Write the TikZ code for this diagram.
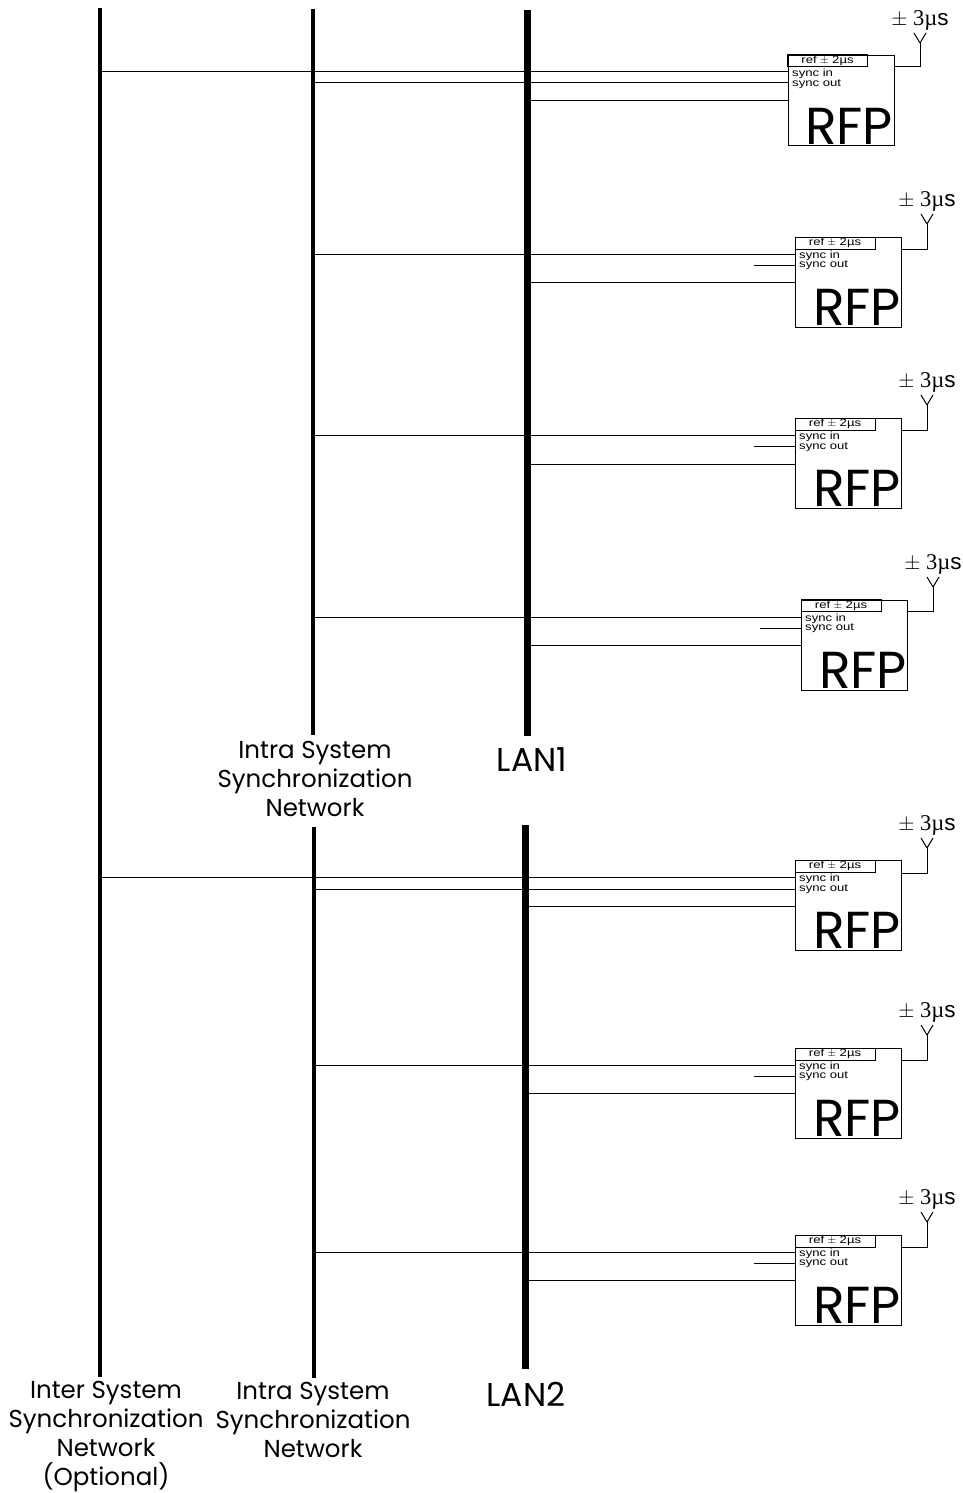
\documentclass[tikz,border=0pt]{standalone}
\usepackage{fontspec}
\setmainfont{Poppins}
\newfontfamily\arialface{Liberation Sans}
\newfontfamily\arialwide[FakeStretch=1.25]{Liberation Sans}
\newfontfamily\timesface{Liberation Serif}
\usetikzlibrary{positioning}
\tikzset{
	rfpbox/.style={draw, line width=1pt, minimum width=106pt, minimum height=90pt, inner sep=0pt},
	refbox/.style={draw, line width=1pt, minimum width=80pt, minimum height=12pt, inner sep=0pt, text width=80pt, align=center, font=\arialwide\fontsize{10.5}{10.5}\selectfont},
	syncname/.style={inner sep=0pt, anchor=west, font=\arialwide\fontsize{10.5}{10.5}\selectfont},
	rfpname/.style={inner sep=0pt, font=\fontsize{52}{52}\selectfont},
	timing/.style={inner sep=0pt, font=\timesface\fontsize{22.5}{22.5}\selectfont},
	netname/.style={inner sep=0pt, align=center, font=\fontsize{24.5}{29}\selectfont},
	lanname/.style={inner sep=0pt, font=\fontsize{33}{33}\selectfont},
	interbus/.style={line width=4pt},
	intrabus/.style={line width=3.5pt},
	lanbus/.style={line width=7pt},
	wire/.style={line width=1pt},
}
\begin{document}
\begin{tikzpicture}[x=1pt, y=-1pt]
	\useasboundingbox (0, 0) rectangle (962, 1493);
	% Buses:
	\coordinate (inter top) at (100, 8);
	\coordinate (inter bot) at (100, 1377);
	\coordinate (intra1 top) at (313, 9);
	\coordinate (intra1 bot) at (313, 735);
	\coordinate (intra2 top) at (314, 827);
	\coordinate (intra2 bot) at (314, 1378);
	\coordinate (lan1 top) at (527, 10);
	\coordinate (lan1 bot) at (527, 736);
	\coordinate (lan2 top) at (525, 825);
	\coordinate (lan2 bot) at (525, 1369);
	\draw[interbus] (inter top) -- (inter bot);
	\draw[intrabus] (intra1 top) -- (intra1 bot);
	\draw[intrabus] (intra2 top) -- (intra2 bot);
	\draw[lanbus] (lan1 top) -- (lan1 bot);
	\draw[lanbus] (lan2 top) -- (lan2 bot);
	% Bus names:
	\node[netname] (intra1 name) at (315, 779) {Intra System\\Synchronization\\Network};
	\node[lanname] (lan1 name) at (532, 760) {LAN1};
	\node[netname] (inter name) at (106, 1437) {Inter System\\Synchronization\\Network\\(Optional)};
	\node[netname] (intra2 name) at (313, 1420) {Intra System\\Synchronization\\Network};
	\node[lanname] (lan2 name) at (526, 1394) {LAN2};
	% RFP 1:
	\node[rfpbox] (rfp1) at (841.5, 100.5) {};
	\node[refbox] (ref1) at (827.5, 61) {ref $\pm$ 2µs};
	\node[syncname] (in1) at (792, 73.5) {sync in};
	\node[syncname] (out1) at (792, 84) {sync out};
	\node[rfpname] (name1) at (849, 126) {RFP};
	\node[timing] (time1) at (920, 20) {$\pm$ 3µ\arialface s};
	\coordinate (ant1) at (920, 33);
	\coordinate (a1) at (788, 72);
	\coordinate (b1) at (788, 83);
	\coordinate (c1) at (788, 101);
	\draw[wire] (inter top |- a1) -- (a1);
	\draw[wire] (intra1 top |- b1) -- (b1);
	\draw[wire] (lan1 top |- c1) -- (c1);
	\draw[wire] (rfp1.east |- 0, 67) -| (ant1 |- 0, 43);
	\draw[wire] (ant1 |- 0, 43) -- ++(-6, -10) (ant1 |- 0, 43) -- ++(6, -10);
	% RFP 2:
	\node[rfpbox] (rfp2) at (848, 282) {};
	\node[refbox] (ref2) at (835, 243) {ref $\pm$ 2µs};
	\node[syncname] (in2) at (799, 255.5) {sync in};
	\node[syncname] (out2) at (799, 265.5) {sync out};
	\node[rfpname] (name2) at (857, 307) {RFP};
	\node[timing] (time2) at (927, 201) {$\pm$ 3µ\arialface s};
	\coordinate (ant2) at (927, 214);
	\coordinate (a2) at (795, 254);
	\coordinate (b2) at (795, 265);
	\coordinate (c2) at (795, 282);
	\coordinate (s2) at (754, 265);
	\draw[wire] (intra1 top |- a2) -- (a2);
	\draw[wire] (s2) -- (b2);
	\draw[wire] (lan1 top |- c2) -- (c2);
	\draw[wire] (rfp2.east |- 0, 249) -| (ant2 |- 0, 224);
	\draw[wire] (ant2 |- 0, 224) -- ++(-6, -10) (ant2 |- 0, 224) -- ++(6, -10);
	% RFP 3:
	\node[rfpbox] (rfp3) at (848, 463) {};
	\node[refbox] (ref3) at (835, 424) {ref $\pm$ 2µs};
	\node[syncname] (in3) at (799, 437) {sync in};
	\node[syncname] (out3) at (799, 447) {sync out};
	\node[rfpname] (name3) at (857, 488) {RFP};
	\node[timing] (time3) at (927, 382) {$\pm$ 3µ\arialface s};
	\coordinate (ant3) at (927, 395);
	\coordinate (a3) at (795, 435);
	\coordinate (b3) at (795, 446);
	\coordinate (c3) at (795, 464);
	\coordinate (s3) at (754, 446);
	\draw[wire] (intra1 top |- a3) -- (a3);
	\draw[wire] (s3) -- (b3);
	\draw[wire] (lan1 top |- c3) -- (c3);
	\draw[wire] (rfp3.east |- 0, 430) -| (ant3 |- 0, 405);
	\draw[wire] (ant3 |- 0, 405) -- ++(-6, -10) (ant3 |- 0, 405) -- ++(6, -10);
	% RFP 4:
	\node[rfpbox] (rfp4) at (854, 645) {};
	\node[refbox] (ref4) at (841, 605.5) {ref $\pm$ 2µs};
	\node[syncname] (in4) at (805, 618.5) {sync in};
	\node[syncname] (out4) at (805, 628.5) {sync out};
	\node[rfpname] (name4) at (863, 670) {RFP};
	\node[timing] (time4) at (933, 564) {$\pm$ 3µ\arialface s};
	\coordinate (ant4) at (933, 577);
	\coordinate (a4) at (801, 617);
	\coordinate (b4) at (801, 628);
	\coordinate (c4) at (801, 645);
	\coordinate (s4) at (760, 628);
	\draw[wire] (intra1 top |- a4) -- (a4);
	\draw[wire] (s4) -- (b4);
	\draw[wire] (lan1 top |- c4) -- (c4);
	\draw[wire] (rfp4.east |- 0, 611) -| (ant4 |- 0, 587);
	\draw[wire] (ant4 |- 0, 587) -- ++(-6, -10) (ant4 |- 0, 587) -- ++(6, -10);
	% RFP 5:
	\node[rfpbox] (rfp5) at (848, 905) {};
	\node[refbox] (ref5) at (835, 866) {ref $\pm$ 2µs};
	\node[syncname] (in5) at (799, 879) {sync in};
	\node[syncname] (out5) at (799, 889) {sync out};
	\node[rfpname] (name5) at (857, 930) {RFP};
	\node[timing] (time5) at (927, 825) {$\pm$ 3µ\arialface s};
	\coordinate (ant5) at (927, 838);
	\coordinate (a5) at (795, 877);
	\coordinate (b5) at (795, 889);
	\coordinate (c5) at (795, 906);
	\draw[wire] (inter top |- a5) -- (a5);
	\draw[wire] (intra2 top |- b5) -- (b5);
	\draw[wire] (lan2 top |- c5) -- (c5);
	\draw[wire] (rfp5.east |- 0, 873) -| (ant5 |- 0, 848);
	\draw[wire] (ant5 |- 0, 848) -- ++(-6, -10) (ant5 |- 0, 848) -- ++(6, -10);
	% RFP 6:
	\node[rfpbox] (rfp6) at (848, 1093) {};
	\node[refbox] (ref6) at (835, 1054) {ref $\pm$ 2µs};
	\node[syncname] (in6) at (799, 1066.5) {sync in};
	\node[syncname] (out6) at (799, 1076.5) {sync out};
	\node[rfpname] (name6) at (857, 1118) {RFP};
	\node[timing] (time6) at (927, 1012) {$\pm$ 3µ\arialface s};
	\coordinate (ant6) at (927, 1025);
	\coordinate (a6) at (795, 1065);
	\coordinate (b6) at (795, 1076);
	\coordinate (c6) at (795, 1093);
	\coordinate (s6) at (754, 1076);
	\draw[wire] (intra2 top |- a6) -- (a6);
	\draw[wire] (s6) -- (b6);
	\draw[wire] (lan2 top |- c6) -- (c6);
	\draw[wire] (rfp6.east |- 0, 1060) -| (ant6 |- 0, 1035);
	\draw[wire] (ant6 |- 0, 1035) -- ++(-6, -10) (ant6 |- 0, 1035) -- ++(6, -10);
	% RFP 7:
	\node[rfpbox] (rfp7) at (848, 1280) {};
	\node[refbox] (ref7) at (835, 1241) {ref $\pm$ 2µs};
	\node[syncname] (in7) at (799, 1253.5) {sync in};
	\node[syncname] (out7) at (799, 1263.5) {sync out};
	\node[rfpname] (name7) at (857, 1305) {RFP};
	\node[timing] (time7) at (927, 1199) {$\pm$ 3µ\arialface s};
	\coordinate (ant7) at (927, 1212);
	\coordinate (a7) at (795, 1252);
	\coordinate (b7) at (795, 1263);
	\coordinate (c7) at (795, 1280);
	\coordinate (s7) at (754, 1263);
	\draw[wire] (intra2 top |- a7) -- (a7);
	\draw[wire] (s7) -- (b7);
	\draw[wire] (lan2 top |- c7) -- (c7);
	\draw[wire] (rfp7.east |- 0, 1247) -| (ant7 |- 0, 1222);
	\draw[wire] (ant7 |- 0, 1222) -- ++(-6, -10) (ant7 |- 0, 1222) -- ++(6, -10);
\end{tikzpicture}
\end{document}
